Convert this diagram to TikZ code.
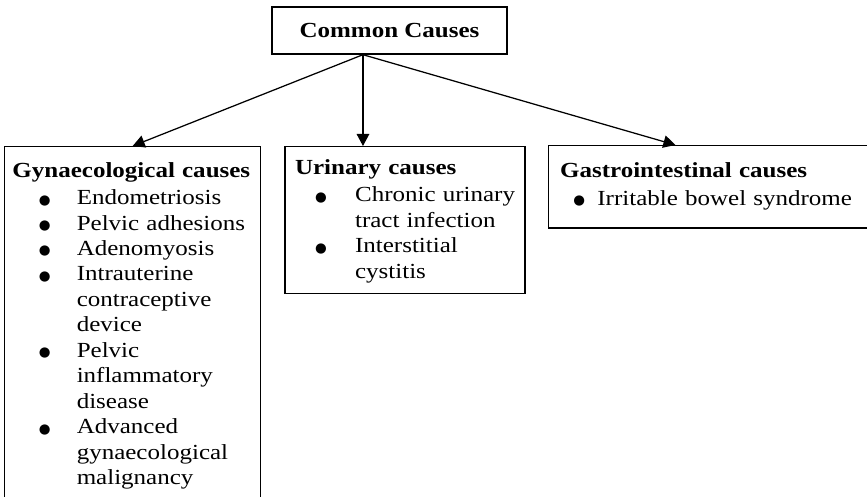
\documentclass[tikz,border=0pt]{standalone}
\usepackage{fontspec}
\setmainfont{Liberation Serif}[FakeStretch=1.163]
\newfontfamily\bulfont{DejaVu Sans}
\usetikzlibrary{arrows.meta, positioning}

\newlength{\blpos}
\newlength{\bltext}
%% padding, bullet position, text position
\newcommand{\setindents}[3]{\leftskip=#1\relax
  \setlength{\blpos}{#2}\setlength{\bltext}{#3}}
\newcommand{\chead}[1]{\textbf{#1}\par\vspace{1pt}}
\newcommand{\bitem}[1]{\par\hangindent=\bltext\hangafter=1\noindent
  \hspace*{\blpos}\makebox[\dimexpr\bltext-\blpos\relax][l]%
  {\raisebox{0.3pt}{\bulfont\fontsize{7.5pt}{7.5pt}\selectfont ●}}#1}

\tikzset{
  %% Root box
  rootbox/.style={
    rectangle, draw=black, line width=0.8pt,
    minimum width=131.1pt, minimum height=26.2pt,
    font=\fontsize{12pt}{14.2pt}\selectfont\bfseries
  },
  %% Cause box, text from the top
  cbox/.style={
    rectangle, draw=black, line width=0.8pt,
    align=left, inner xsep=0pt, inner ysep=0pt,
    font=\fontsize{12pt}{14.2pt}\selectfont
  },
  %% Arrow
  arr/.style={-{Triangle[length=6.7pt,width=7pt]},
              draw=black, line width=0.7pt},
}

\begin{document}
\begin{tikzpicture}[x=0.558pt, y=-0.558pt]

  \useasboundingbox (0,0) rectangle (867,497);

  %% Root
  \node[rootbox] (cc) at (389.5,30.5) {Common Causes};
  \coordinate (fork) at ([xshift=-14.8pt]cc.south);

  %% Gynaecological
  \node[cbox, anchor=north west, text width=142.8pt,
        text height=17.1pt, text depth=180.4pt] (gyn) at (4,146)
    {\setindents{4.3pt}{14.7pt}{35.9pt}%
     \chead{Gynaecological causes}
     \bitem{Endometriosis}
     \bitem{Pelvic adhesions}
     \bitem{Adenomyosis}
     \bitem{Intrauterine\newline contraceptive\newline device}
     \bitem{Pelvic\newline inflammatory\newline disease}
     \bitem{Advanced\newline gynaecological\newline malignancy}\par};

  %% Urinary
  \node[cbox, right=12.8pt of gyn.north east, anchor=north west,
        text width=133.9pt, text height=15.6pt, text depth=66.4pt] (uri)
    {\setindents{5.6pt}{11.2pt}{33.5pt}%
     \chead{Urinary causes}
     \bitem{Chronic urinary\newline tract infection}
     \bitem{Interstitial\newline cystitis}\par};

  %% Gastrointestinal
  \node[cbox, right=12.3pt of uri.north east, anchor=north west,
        yshift=0.56pt, text width=179.1pt,
        text height=17.9pt, text depth=27.9pt] (gi)
    {\setindents{6.5pt}{7.4pt}{20.8pt}%
     \chead{Gastrointestinal causes}
     \bitem{Irritable bowel syndrome}\par};

  %% Arrows
  \draw[arr] (fork) -- (gyn.north);
  \draw[arr] (fork) -- (fork |- uri.north);
  \draw[arr] (fork) -- ([xshift=-18.7pt]gi.north);

\end{tikzpicture}
\end{document}
